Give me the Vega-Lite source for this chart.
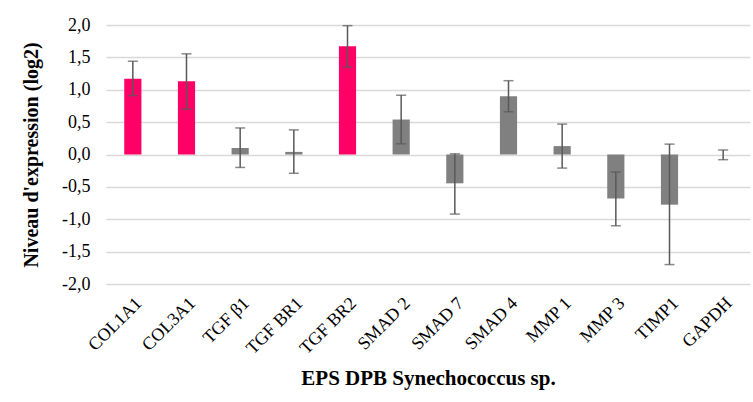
{
  "$schema": "https://vega.github.io/schema/vega-lite/v6.json",
  "autosize": {"type": "none"},
  "width": 644,
  "height": 259,
  "padding": {"left": 106, "top": 25, "right": 3, "bottom": 118},
  "background": "white",
  "config": {
    "view": {"stroke": null},
    "font": "Liberation Serif",
    "axis": {"labelFont": "Liberation Serif", "titleFont": "Liberation Serif", "labelColor": "#000000", "titleColor": "#000000"}
  },
  "data": {
    "values": [
      {"gene": "COL1A1", "value": 1.17, "low": 0.91, "high": 1.44, "groupe": "augmenté"},
      {"gene": "COL3A1", "value": 1.13, "low": 0.70, "high": 1.555, "groupe": "augmenté"},
      {"gene": "TGF β1", "value": 0.10, "low": -0.20, "high": 0.41, "groupe": "autre"},
      {"gene": "TGF BR1", "value": 0.04, "low": -0.29, "high": 0.38, "groupe": "autre"},
      {"gene": "TGF BR2", "value": 1.67, "low": 1.35, "high": 1.99, "groupe": "augmenté"},
      {"gene": "SMAD 2", "value": 0.54, "low": 0.165, "high": 0.915, "groupe": "autre"},
      {"gene": "SMAD 7", "value": -0.445, "low": -0.92, "high": 0.01, "groupe": "autre"},
      {"gene": "SMAD 4", "value": 0.90, "low": 0.66, "high": 1.14, "groupe": "autre"},
      {"gene": "MMP 1", "value": 0.13, "low": -0.21, "high": 0.47, "groupe": "autre"},
      {"gene": "MMP 3", "value": -0.68, "low": -1.10, "high": -0.27, "groupe": "autre"},
      {"gene": "TIMP1", "value": -0.775, "low": -1.70, "high": 0.16, "groupe": "autre"},
      {"gene": "GAPDH", "value": 0.0, "low": -0.08, "high": 0.07, "groupe": "autre"}
    ]
  },
  "encoding": {
    "x": {
      "field": "gene", "type": "nominal", "sort": null,
      "scale": {"paddingInner": 0, "paddingOuter": 0},
      "axis": {
        "title": "EPS DPB Synechococcus sp.",
        "titleFont": "Liberation Serif", "labelFont": "Liberation Serif",
        "titleFontSize": 21, "titleFontWeight": "bold", "titlePadding": 10,
        "labelAngle": -45, "labelFontSize": 18, "labelPadding": 10,
        "labelColor": "#000000", "titleColor": "#000000",
        "domain": false, "ticks": false, "grid": false
      }
    }
  },
  "layer": [
    {
      "mark": {"type": "bar", "width": {"band": 0.32}},
      "encoding": {
        "y": {
          "field": "value", "type": "quantitative",
          "scale": {"domain": [-2, 2], "nice": false},
          "axis": {
            "title": "Niveau d'expression  (log2)",
            "titleFont": "Liberation Serif", "labelFont": "Liberation Serif",
            "labelColor": "#000000", "titleColor": "#000000",
            "titleFontSize": 20, "titleFontWeight": "bold", "titlePadding": 20,
            "values": [-2, -1.5, -1, -0.5, 0, 0.5, 1, 1.5, 2],
            "labelOverlap": false,
            "labelExpr": "replace(replace(format(datum.value, '.1f'), '.', ','), '\u2212', '-')",
            "labelFontSize": 18, "labelPadding": 16,
            "domain": false, "ticks": false,
            "gridColor": "#d9d9d9", "gridWidth": 1.5
          }
        },
        "color": {
          "field": "groupe", "type": "nominal",
          "scale": {"domain": ["augmenté", "autre"], "range": ["#FF0066", "#808080"]},
          "legend": null
        }
      }
    },
    {
      "mark": {"type": "rule", "color": "#595959", "strokeWidth": 1.5},
      "encoding": {
        "y": {"field": "low", "type": "quantitative",
          "axis": {"title": "Niveau d'expression  (log2)", "titleFont": "Liberation Serif", "labelFont": "Liberation Serif", "titleFontSize": 20, "titleFontWeight": "bold", "labelFontSize": 18, "values": [-2, -1.5, -1, -0.5, 0, 0.5, 1, 1.5, 2], "labelOverlap": false}},
        "y2": {"field": "high"}
      }
    },
    {
      "mark": {"type": "tick", "color": "#595959", "thickness": 1.5, "size": 10, "orient": "horizontal"},
      "encoding": {"y": {"field": "low", "type": "quantitative",
          "axis": {"title": "Niveau d'expression  (log2)", "titleFont": "Liberation Serif", "labelFont": "Liberation Serif", "titleFontSize": 20, "titleFontWeight": "bold", "labelFontSize": 18, "values": [-2, -1.5, -1, -0.5, 0, 0.5, 1, 1.5, 2], "labelOverlap": false}}}
    },
    {
      "mark": {"type": "tick", "color": "#595959", "thickness": 1.5, "size": 10, "orient": "horizontal"},
      "encoding": {"y": {"field": "high", "type": "quantitative",
          "axis": {"title": "Niveau d'expression  (log2)", "titleFont": "Liberation Serif", "labelFont": "Liberation Serif", "titleFontSize": 20, "titleFontWeight": "bold", "labelFontSize": 18, "values": [-2, -1.5, -1, -0.5, 0, 0.5, 1, 1.5, 2], "labelOverlap": false}}}
    }
  ]
}
